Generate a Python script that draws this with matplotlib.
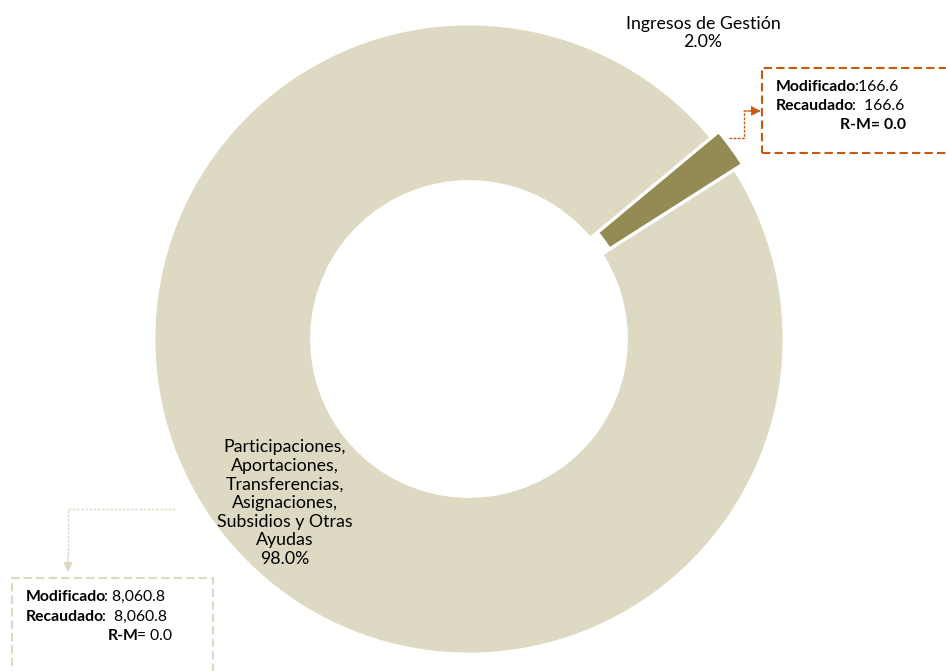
import matplotlib.pyplot as plt
from matplotlib.patches import Rectangle

# data
labels = ["Ingresos de Gestión",
          "Participaciones,\nAportaciones,\nTransferencias,\nAsignaciones,\nSubsidios y Otras\nAyudas"]
modificado = [166.6, 8060.8]
recaudado = [166.6, 8060.8]
colors = ["#948A54", "#DDD9C3"]

plt.rcParams['font.family'] = ['Lato', 'DejaVu Sans']

W, H = 946, 671
CX, CY, R = 469, 339, 315   # donut centre and radius in pixels
FS = 11.3


def P(x, y):
    # image pixel -> data coords
    return (x - CX) / R, (CY - y) / R


fig = plt.figure(figsize=(W / 100, H / 100), dpi=100)
ax = fig.add_axes([0, 0, 1, 1])
wedges, _ = ax.pie(modificado, colors=colors, startangle=32.5, counterclock=True,
                   explode=[0.03, 0], radius=1,
                   wedgeprops=dict(width=0.5, edgecolor="white", linewidth=2))
ax.set_xlim(-CX / R, (W - CX) / R)
ax.set_ylim(-(H - CY) / R, CY / R)
ax.set_aspect('equal')
ax.axis('off')

total = sum(modificado)
pct = [v / total * 100 for v in modificado]

# slice labels
ax.text(*P(703, 33), f"{labels[0]}\n{pct[0]:.1f}%", ha='center', va='center',
        fontsize=12.8, linespacing=1.15)
ax.text(*P(285, 503), f"{labels[1]}\n{pct[1]:.1f}%", ha='center', va='center',
        fontsize=12.8, linespacing=1.2)

orange = "#C55A11"
beige = "#DDD9C3"


def info_box(x0, y0, x1, y1, color):
    (a, b), (c, d) = P(x0, y1), P(x1, y0)
    ax.add_patch(Rectangle((a, b), c - a, d - b, fill=False, edgecolor=color,
                           lw=1.5, linestyle=(0, (4, 2)), clip_on=False))


def mixed(x, y, bold, normal, ha='left'):
    if ha == 'left':
        t = ax.text(*P(x, y), bold, fontsize=FS, fontweight='bold', va='center')
        ax.annotate(normal, xy=(1, 0), xycoords=t, xytext=(-1.5, 0),
                    textcoords='offset points', va='bottom', fontsize=FS)
    else:
        t = ax.text(*P(x, y), normal, fontsize=FS, va='center', ha='right')
        ax.annotate(bold, xy=(0, 0), xycoords=t, xytext=(1.5, 0),
                    textcoords='offset points', va='bottom', ha='right',
                    fontsize=FS, fontweight='bold')


# top box (Ingresos de Gestion)
info_box(762, 68, 960, 153, orange)
mixed(776, 87, "Modificado", f":{modificado[0]:,.1f}")
mixed(776, 106, "Recaudado", f":  {recaudado[0]:,.1f}")
ax.text(*P(906, 125), f"R-M= {recaudado[0] - modificado[0]:.1f}", fontsize=FS,
        fontweight='bold', ha='right', va='center')
xs, ys = zip(P(729, 138), P(744, 138), P(744, 111))
ax.plot(xs, ys, color=orange, lw=1, linestyle=(0, (2, 1)))
ax.annotate("", xy=P(761, 111), xytext=P(744, 111),
            arrowprops=dict(arrowstyle='-|>', color=orange, lw=1,
                            linestyle=(0, (2, 1)), mutation_scale=14,
                            shrinkA=0, shrinkB=0))

# bottom box (Participaciones)
info_box(12, 578, 213, 690, beige)
mixed(26, 597, "Modificado", f": {modificado[1]:,.1f}")
mixed(26, 617, "Recaudado", f":  {recaudado[1]:,.1f}")
mixed(172, 636, "R-M", f"= {recaudado[1] - modificado[1]:.1f}", ha='right')
xs, ys = zip(P(175, 509), P(68, 509), P(68, 555))
ax.plot(xs, ys, color=beige, lw=1, linestyle=(0, (2, 1)))
ax.annotate("", xy=P(68, 572), xytext=P(68, 555),
            arrowprops=dict(arrowstyle='-|>', color=beige, lw=1,
                            mutation_scale=14, shrinkA=0, shrinkB=0))

fig.savefig("out.png", dpi=100)
